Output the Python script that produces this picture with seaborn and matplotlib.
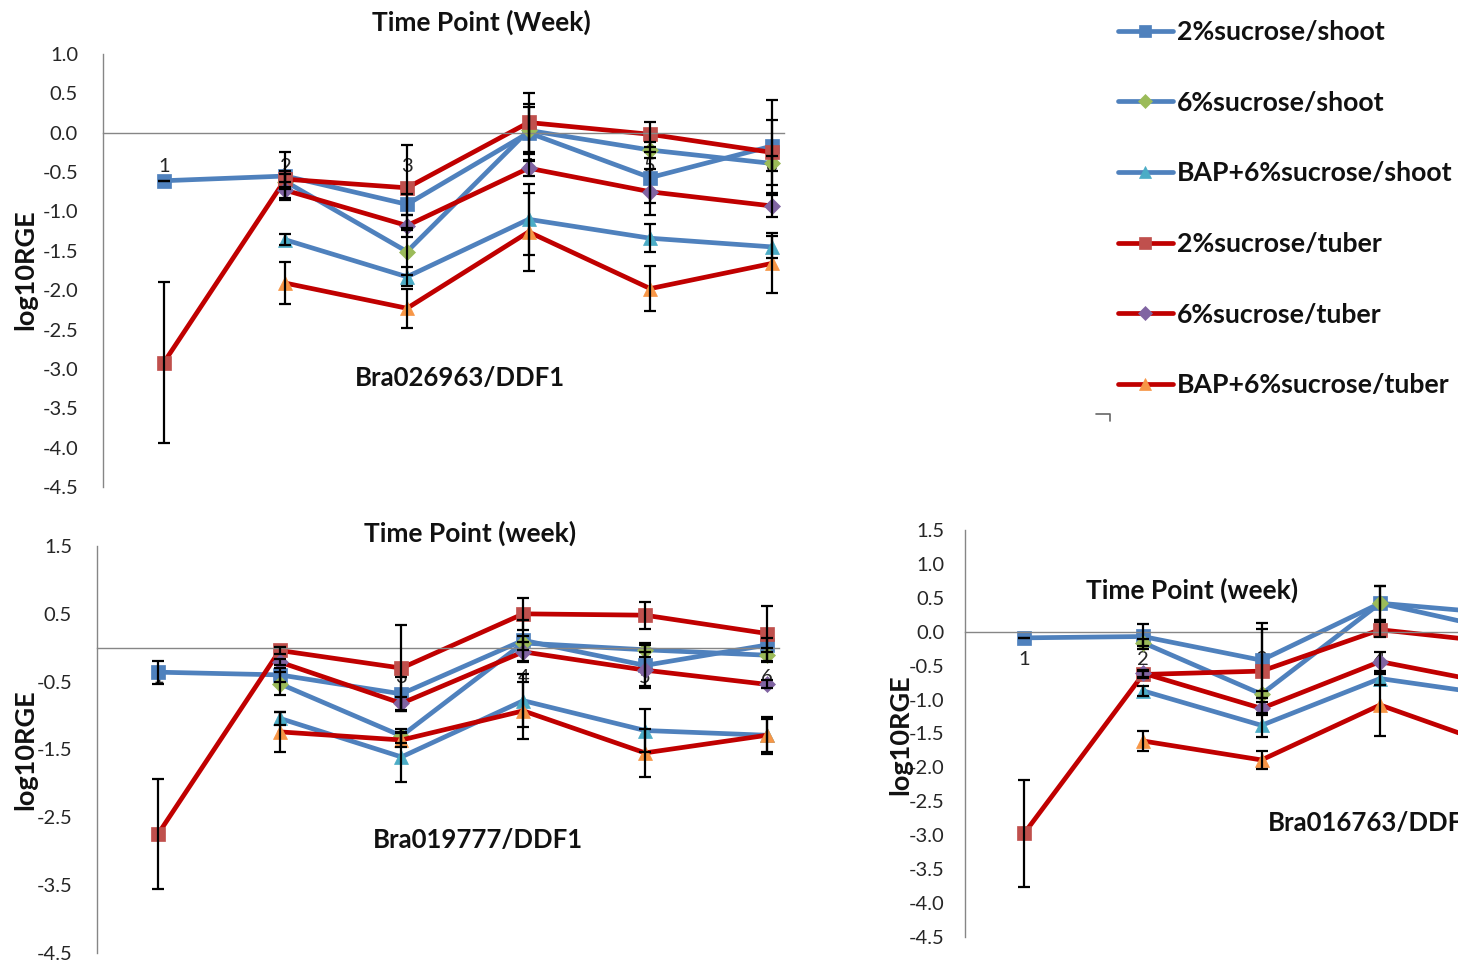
import numpy as np
import pandas as pd
import matplotlib
matplotlib.use("Agg")
import matplotlib.pyplot as plt
import seaborn as sns
from matplotlib.lines import Line2D

nan = np.nan

# ---------------- data ----------------
series_names = ["2%sucrose/shoot", "6%sucrose/shoot", "BAP+6%sucrose/shoot",
                "2%sucrose/tuber", "6%sucrose/tuber", "BAP+6%sucrose/tuber"]
week_labels = ["1", "2", "3", "4", "5", "6"]
weeks = [1, 2, 3, 4, 5, 6]
weeks_c = [1, 2, 3, 4, 5]

# Panel A : Bra026963/DDF1
a_s2_shoot = [-0.61, -0.55, -0.91, 0.00, -0.57, -0.17]
a_s6_shoot = [nan, -0.62, -1.51, 0.03, -0.22, -0.39]
a_bap_shoot = [nan, -1.36, -1.83, -1.10, -1.34, -1.45]
a_s2_tuber = [-2.92, -0.59, -0.70, 0.13, -0.02, -0.25]
a_s6_tuber = [nan, -0.73, -1.18, -0.45, -0.75, -0.93]
a_bap_tuber = [nan, -1.91, -2.23, -1.26, -1.98, -1.66]
a_err_s2_shoot = [0.0, 0.30, 0.13, 0.36, 0.32, 0.59]
a_err_s6_shoot = [nan, 0.10, 0.30, 0.30, 0.10, 0.10]
a_err_bap_shoot = [nan, 0.07, 0.12, 0.45, 0.18, 0.14]
a_err_s2_tuber = [1.02, 0.10, 0.54, 0.37, 0.16, 0.41]
a_err_s6_tuber = [nan, 0.10, 0.14, 0.10, 0.29, 0.14]
a_err_bap_tuber = [nan, 0.27, 0.25, 0.50, 0.29, 0.38]

# Panel B : Bra019777/DDF1
b_s2_shoot = [-0.36, -0.40, -0.68, 0.11, -0.26, 0.04]
b_s6_shoot = [nan, -0.53, -1.30, 0.07, -0.03, -0.11]
b_bap_shoot = [nan, -1.04, -1.61, -0.78, -1.22, -1.29]
b_s2_tuber = [-2.75, -0.04, -0.30, 0.50, 0.48, 0.21]
b_s6_tuber = [nan, -0.21, -0.82, -0.06, -0.33, -0.54]
b_bap_tuber = [nan, -1.24, -1.36, -0.93, -1.55, -1.29]
b_err_s2_shoot = [0.17, 0.10, 0.25, 0.30, 0.30, 0.10]
b_err_s6_shoot = [nan, 0.17, 0.10, 0.10, 0.10, 0.10]
b_err_bap_shoot = [nan, 0.10, 0.37, 0.39, 0.32, 0.27]
b_err_s2_tuber = [0.81, 0.05, 0.63, 0.24, 0.20, 0.40]
b_err_s6_tuber = [nan, 0.05, 0.10, 0.15, 0.27, 0.06]
b_err_bap_tuber = [nan, 0.30, 0.10, 0.42, 0.35, 0.24]

# Panel C : Bra016763/DDF1 (cut off at the right)
c_s2_shoot = [-0.09, -0.07, -0.42, 0.42, 0.27]
c_s6_shoot = [nan, -0.16, -0.92, 0.42, 0.03]
c_bap_shoot = [nan, -0.87, -1.38, -0.69, -0.94]
c_s2_tuber = [-2.97, -0.63, -0.58, 0.03, -0.16]
c_s6_tuber = [nan, -0.61, -1.13, -0.44, -0.78]
c_bap_tuber = [nan, -1.61, -1.89, -1.08, -1.70]
c_err_s2_shoot = [0.0, 0.18, 0.55, 0.25, 0.10]
c_err_s6_shoot = [nan, 0.05, 0.05, 0.25, 0.10]
c_err_bap_shoot = [nan, 0.07, 0.17, 0.10, 0.10]
c_err_s2_tuber = [0.79, 0.05, 0.62, 0.11, 0.10]
c_err_s6_tuber = [nan, 0.05, 0.10, 0.14, 0.10]
c_err_bap_tuber = [nan, 0.15, 0.13, 0.46, 0.10]

# ---------------- style ----------------
sns.set_style("white")
plt.rcParams["font.family"] = ["Lato", "DejaVu Sans"]

BLUE = "#4F81BD"
RED = "#C00000"
line_colors = [BLUE, BLUE, BLUE, RED, RED, RED]
marker_shapes = ["s", "D", "^", "s", "D", "^"]
marker_colors = ["#4F81BD", "#9BBB59", "#4BACC6", "#C0504D", "#8064A2", "#F79646"]
marker_sizes = [10, 8, 10, 10, 8, 10]
SPINE = "#868686"
TICKFS = 14.5

fig = plt.figure(figsize=(14.58, 9.66), dpi=100)
W, H = 1458.0, 966.0


def px_axes(left, top, right, bottom):
    return fig.add_axes([left / W, 1 - bottom / H, (right - left) / W, (bottom - top) / H])


def draw_panel(ax, xs, vals, errs, ylim, yticks, ytick_len, ytick_pad, xlab_pad, n_labels):
    for i, (v, e) in enumerate(zip(vals, errs)):
        df = pd.DataFrame({"week": xs, "value": v, "err": e}).dropna()
        sns.lineplot(data=df, x="week", y="value", ax=ax, color=line_colors[i],
                     linewidth=3.4, marker=marker_shapes[i], markersize=marker_sizes[i],
                     markerfacecolor=marker_colors[i], markeredgecolor=marker_colors[i],
                     markeredgewidth=0.5, errorbar=None, label=series_names[i],
                     legend=False, zorder=2 + i * 0.01)
        ax.errorbar(df["week"], df["value"], yerr=df["err"], fmt="none",
                    ecolor="black", elinewidth=1.6, capsize=4, capthick=1.6, zorder=3)
    ax.set_xlim(0.5, 6.1)
    ax.set_ylim(*ylim)
    ax.set_yticks(yticks)
    ax.set_yticklabels([f"{t:.1f}" for t in yticks])
    ax.set_xticks(weeks[:n_labels])
    ax.set_xticklabels(week_labels[:n_labels])
    ax.set_xticks([w + 0.5 for w in weeks[:n_labels - 1]] + ([5.5] if n_labels == 6 else [4.5]),
                  minor=True)
    ax.set_xlabel("")
    ax.set_ylabel("")
    for s in ["top", "right"]:
        ax.spines[s].set_visible(False)
    ax.spines["bottom"].set_position(("data", 0))
    for s in ["left", "bottom"]:
        ax.spines[s].set_color(SPINE)
        ax.spines[s].set_linewidth(1.0)
    ax.tick_params(axis="y", which="major", direction="out", length=ytick_len,
                   color=SPINE, width=1.0, pad=ytick_pad, labelsize=TICKFS, labelcolor="#262626")
    ax.tick_params(axis="x", which="major", length=0, pad=xlab_pad, labelsize=TICKFS,
                   labelcolor="#262626")
    ax.tick_params(axis="x", which="minor", direction="in", length=6, color=SPINE, width=1.0)
    ax.set_axisbelow(True)
    ax.patch.set_alpha(0)


# Panel A
axA = px_axes(103, 54, 784, 487)
draw_panel(axA, weeks,
           [a_s2_shoot, a_s6_shoot, a_bap_shoot, a_s2_tuber, a_s6_tuber, a_bap_tuber],
           [a_err_s2_shoot, a_err_s6_shoot, a_err_bap_shoot, a_err_s2_tuber, a_err_s6_tuber, a_err_bap_tuber],
           (-4.5, 1.0), np.arange(1.0, -4.51, -0.5), 6, 12, 18, 6)

# Panel B
axB = px_axes(97, 546, 779, 953)
draw_panel(axB, weeks,
           [b_s2_shoot, b_s6_shoot, b_bap_shoot, b_s2_tuber, b_s6_tuber, b_bap_tuber],
           [b_err_s2_shoot, b_err_s6_shoot, b_err_bap_shoot, b_err_s2_tuber, b_err_s6_tuber, b_err_bap_tuber],
           (-4.5, 1.5), np.arange(1.5, -4.51, -1.0), 6, 12, 15, 6)

# Panel C (extends beyond the right edge of the figure)
axC = px_axes(965, 530, 965 + 5.6 * 118.6, 937)
draw_panel(axC, weeks_c,
           [c_s2_shoot, c_s6_shoot, c_bap_shoot, c_s2_tuber, c_s6_tuber, c_bap_tuber],
           [c_err_s2_shoot, c_err_s6_shoot, c_err_bap_shoot, c_err_s2_tuber, c_err_s6_tuber, c_err_bap_tuber],
           (-4.5, 1.5), np.arange(1.5, -4.51, -0.5), 12, 3, 14, 4)

# ---------------- texts ----------------
def ftext(x, y, s, **kw):
    fig.text(x / W, 1 - y / H, s, **kw)

bold = dict(fontweight="bold", color="#111111")
ftext(481, 22, "Time Point (Week)", ha="center", va="center", fontsize=19, **bold)
ftext(470, 533, "Time Point (week)", ha="center", va="center", fontsize=19, **bold)
ftext(1192, 590, "Time Point (week)", ha="center", va="center", fontsize=19, **bold)
ftext(460, 378, "Bra026963/DDF1", ha="center", va="center", fontsize=18.5, **bold)
ftext(478, 840, "Bra019777/DDF1", ha="center", va="center", fontsize=18.5, **bold)
ftext(1268, 823, "Bra016763/DDF1", ha="left", va="center", fontsize=18.5, **bold)
ftext(25, 270, "log10RGE", ha="center", va="center", rotation=90, fontsize=19.5, **bold)
ftext(25, 750, "log10RGE", ha="center", va="center", rotation=90, fontsize=19.5, **bold)
ftext(900, 735, "log10RGE", ha="center", va="center", rotation=90, fontsize=19.5, **bold)

# ---------------- legend ----------------
handles, labels = axA.get_legend_handles_labels()
leg = fig.legend(handles, labels, loc="upper left", bbox_to_anchor=(1102 / W, 1 - 4 / H),
                 frameon=False, handlelength=2.05, handletextpad=0.15, labelspacing=1.75,
                 borderpad=0.1,
                 prop=dict(family=["Lato", "DejaVu Sans"], weight="bold", size=19.2),
                 markerscale=0.85)
for t in leg.get_texts():
    t.set_color("#111111")

# small corner mark left of the legend
fig.add_artist(Line2D([1096 / W, 1110 / W, 1110 / W], [1 - 414 / H, 1 - 414 / H, 1 - 421 / H],
                      transform=fig.transFigure, color="#666666", lw=1.2))

fig.savefig("out.png", dpi=100)
